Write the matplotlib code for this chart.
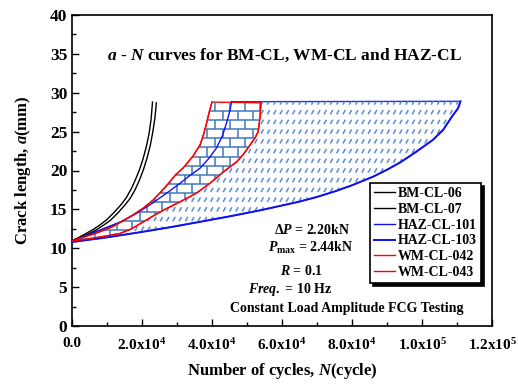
import numpy as np
import matplotlib
matplotlib.use("Agg")
import matplotlib.pyplot as plt
from matplotlib.collections import LineCollection
from matplotlib.ticker import MultipleLocator, FuncFormatter

plt.rcParams['font.family'] = ['Liberation Serif', 'DejaVu Serif']
plt.rcParams['font.weight'] = 'bold'
plt.rcParams['axes.labelweight'] = 'bold'
plt.rcParams['mathtext.fontset'] = 'custom'
plt.rcParams['mathtext.rm'] = 'Liberation Serif:bold'
plt.rcParams['mathtext.it'] = 'Liberation Serif:bold:italic'
plt.rcParams['mathtext.bf'] = 'Liberation Serif:bold'

# a-N data (N in cycles, a in mm)
bm06_N = [0, 2000, 4000, 6000, 8000, 10000, 12000, 14000, 15500, 17000, 18000, 19200, 20300, 21200, 22000, 22600, 23000]
bm06_a = [11.0, 11.4, 11.9, 12.4, 13.0, 13.7, 14.6, 15.6, 16.5, 17.7, 18.7, 20.0, 21.5, 23.0, 24.7, 26.6, 28.8]
bm07_N = [0, 2200, 4500, 6700, 8800, 11000, 13000, 15000, 16600, 18000, 19300, 20400, 21500, 22400, 23100, 23700, 24100]
bm07_a = [10.9, 11.3, 11.8, 12.3, 12.9, 13.6, 14.5, 15.5, 16.4, 17.5, 18.8, 20.1, 21.7, 23.3, 25.0, 26.8, 28.7]

haz101_N = [0, 4500, 9000, 14000, 18500, 23000, 28000, 31000, 33500, 36600, 39000, 41300, 43000, 44200, 45000, 45600]
haz101_a = [10.9, 11.7, 12.5, 13.4, 14.5, 15.8, 17.4, 18.4, 19.3, 20.3, 21.5, 22.9, 24.5, 26.2, 27.5, 28.85]
haz103_N = [0, 5000, 10000, 20000, 28000, 36600, 45000, 54000, 60000, 65000, 70000, 75000, 80000, 86000,
            90000, 94000, 98000, 103000, 106000, 108500, 110300, 111000]
haz103_a = [10.8, 11.1, 11.4, 12.1, 12.7, 13.4, 14.1, 14.9, 15.5, 16.0, 16.6, 17.3, 18.1, 19.2,
            20.1, 21.1, 22.3, 23.9, 25.2, 26.9, 28.0, 28.9]

wm042_N = [0, 3000, 6000, 9000, 11700, 14500, 17500, 20500, 23200, 25500, 27500, 29500, 31700, 34500,
           36600, 37500, 38300, 39200, 40000]
wm042_a = [11.0, 11.4, 11.8, 12.3, 12.8, 13.5, 14.3, 15.2, 16.2, 17.3, 18.3, 19.4, 20.3, 21.8,
           23.3, 24.5, 25.8, 27.5, 28.8]
wm043_N = [0, 3000, 6000, 10000, 13700, 17000, 20000, 23000, 26100, 31000, 35600, 39400, 43200, 47000,
           49000, 50900, 52300, 53200, 53700, 54000]
wm043_a = [10.9, 11.1, 11.3, 11.6, 11.9, 12.5, 13.3, 14.1, 14.9, 16.0, 17.1, 18.35, 19.8, 21.1,
           22.1, 23.3, 24.2, 25.0, 26.8, 28.7]

x_ticks = [0, 20000, 40000, 60000, 80000, 100000, 120000]


def sci_label(v, pos=None):
    if v == 0:
        return "0.0"
    e = int(np.floor(np.log10(v)))
    return "%.1fx10$^{%d}$" % (v / 10 ** e, e)


fig = plt.figure(figsize=(5.18, 3.86), dpi=100)
ax = fig.add_axes([72 / 518, 60 / 386, 420 / 518, 311 / 386])

# HAZ band with short diagonal dashes
haz_poly = ax.fill(haz101_N + haz103_N[::-1], haz101_a + haz103_a[::-1],
                   facecolor='white', edgecolor='#1f2fe0', lw=1.0, zorder=2)[0]
segs = []
for y in np.arange(10.0, 30.0, 1.25):
    for x in np.arange(0, 115000, 1800):
        segs.append([(x, y - 0.28), (x + 700, y + 0.28)])
lc = LineCollection(segs, colors='#5a8cd6', linewidths=1.1, zorder=2.1)
ax.add_collection(lc)
lc.set_clip_path(haz_poly)

# WM band with brick pattern
wm_poly = ax.fill(wm042_N + wm043_N[::-1], wm042_a + wm043_a[::-1],
                  facecolor='white', edgecolor='red', lw=1.0, zorder=3)[0]
bricks = []
for k, y in enumerate(np.arange(10.0, 30.0, 1.18)):
    bricks.append([(0, y), (60000, y)])
    off = 0 if k % 2 == 0 else 2150
    for x in np.arange(off, 60000, 4300):
        bricks.append([(x, y), (x, y + 1.18)])
bc = LineCollection(bricks, colors='#4178bb', linewidths=1.1, zorder=3.1)
ax.add_collection(bc)
bc.set_clip_path(wm_poly)

ax.plot(bm06_N, bm06_a, color='black', lw=1.0, label='BM-CL-06', zorder=4)
ax.plot(bm07_N, bm07_a, color='black', lw=1.0, label='BM-CL-07', zorder=4)
ax.plot(haz101_N, haz101_a, color='#1010f0', lw=1.0, label='HAZ-CL-101', zorder=4)
ax.plot(haz103_N, haz103_a, color='#1010f0', lw=1.4, label='HAZ-CL-103', zorder=4)
ax.plot(wm042_N, wm042_a, color='red', lw=1.0, label='WM-CL-042', zorder=5)
ax.plot(wm043_N, wm043_a, color='red', lw=1.0, label='WM-CL-043', zorder=5)

ax.set_xlim(0, 120000)
ax.set_ylim(0, 40)
ax.set_xticks(x_ticks)
ax.xaxis.set_major_formatter(FuncFormatter(sci_label))
ax.xaxis.set_minor_locator(MultipleLocator(10000))
ax.yaxis.set_major_locator(MultipleLocator(5))
ax.yaxis.set_minor_locator(MultipleLocator(2.5))
ax.tick_params(which='both', direction='in', top=False, right=False)
ax.tick_params(which='major', length=5, width=1)
ax.tick_params(which='minor', length=3, width=1)
ax.tick_params(axis='x', pad=8, labelsize=11)
ax.tick_params(axis='y', labelsize=12.5)
for s in ax.spines.values():
    s.set_linewidth(1.2)

ax.set_xlabel('Number of cycles, $N$(cycle)', fontsize=12, labelpad=6)
ax.set_ylabel('Crack length, $a$(mm)', fontsize=12, labelpad=12)

ax.text(0.505, 0.871, '$a$ - $N$ curves for BM-CL, WM-CL and HAZ-CL',
        transform=ax.transAxes, ha='center', va='center', fontsize=12.5)
ax.text(0.571, 0.309, r'$\mathit{\Delta P}$ = 2.20kN', transform=ax.transAxes,
        ha='center', va='center', fontsize=10)
ax.text(0.569, 0.251, r'$P_{\mathrm{max}}$ = 2.44kN', transform=ax.transAxes,
        ha='center', va='center', fontsize=10)
ax.text(0.545, 0.177, '$R$ = 0.1', transform=ax.transAxes,
        ha='center', va='center', fontsize=10)
ax.text(0.519, 0.116, '$Freq.$ = 10 Hz', transform=ax.transAxes,
        ha='center', va='center', fontsize=10)
ax.text(0.655, 0.055, 'Constant Load Amplitude FCG Testing', transform=ax.transAxes,
        ha='center', va='center', fontsize=10)

leg = ax.legend(loc='upper left', bbox_to_anchor=(0.71, 0.46), fontsize=10,
                frameon=True, fancybox=False, framealpha=1, edgecolor='black',
                shadow={'color': 'black', 'alpha': 1}, handlelength=1.45,
                handletextpad=0.25, labelspacing=0.2, borderpad=0.3,
                borderaxespad=0)
leg.get_frame().set_linewidth(1.2)
leg.set_zorder(10)

fig.savefig('out.png', dpi=100)
